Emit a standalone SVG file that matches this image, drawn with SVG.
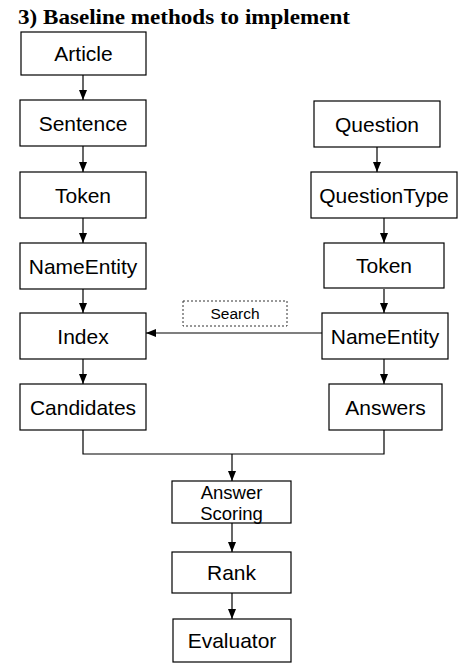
<svg xmlns="http://www.w3.org/2000/svg" width="471" height="670" viewBox="0 0 471 670">
<style>
.box{fill:#fff;stroke:#000;stroke-width:1.2}
.lbl{font-family:"Liberation Sans",Arial,sans-serif;font-size:21px;fill:#000;text-anchor:middle}
.ln{fill:none;stroke:#000;stroke-width:1.2}
.title{font-family:"Liberation Serif","Times New Roman",serif;font-weight:bold;font-size:22px;fill:#000}
</style>
<defs>
<marker id="ah" markerUnits="userSpaceOnUse" markerWidth="10" markerHeight="8" refX="10" refY="4" orient="auto">
<path d="M0,0 L10,4 L0,8 z" fill="#000"/>
</marker>
</defs>
<rect width="471" height="670" fill="#fff"/>
<text class="title" x="18" y="24" textLength="332" lengthAdjust="spacingAndGlyphs">3) Baseline methods to implement</text>
<g id="connectors">
<line class="ln" x1="83" y1="75" x2="83" y2="100" marker-end="url(#ah)"/>
<line class="ln" x1="83" y1="146" x2="83" y2="172" marker-end="url(#ah)"/>
<line class="ln" x1="83" y1="218" x2="83" y2="243" marker-end="url(#ah)"/>
<line class="ln" x1="83" y1="289" x2="83" y2="313" marker-end="url(#ah)"/>
<line class="ln" x1="83" y1="359" x2="83" y2="384" marker-end="url(#ah)"/>
<line class="ln" x1="377" y1="147" x2="377" y2="172" marker-end="url(#ah)"/>
<line class="ln" x1="384" y1="218" x2="384" y2="243" marker-end="url(#ah)"/>
<line class="ln" x1="384" y1="289" x2="384" y2="313" marker-end="url(#ah)"/>
<line class="ln" x1="384" y1="359" x2="384" y2="384" marker-end="url(#ah)"/>
<line class="ln" x1="322" y1="333" x2="146" y2="333" marker-end="url(#ah)"/>
<polyline class="ln" points="83,430 83,454 384,454 384,430"/>
<line class="ln" x1="232" y1="454" x2="232" y2="481" marker-end="url(#ah)"/>
<line class="ln" x1="232" y1="523" x2="232" y2="552" marker-end="url(#ah)"/>
<line class="ln" x1="232" y1="593" x2="232" y2="619" marker-end="url(#ah)"/>
</g>
<g id="search">
<rect x="183" y="301" width="104" height="25" fill="#fff" stroke="#333" stroke-width="1" stroke-dasharray="2,2"/>
<text x="235" y="319" font-family="Liberation Sans,Arial,sans-serif" font-size="15.5" text-anchor="middle">Search</text>
</g>
<g id="article"><rect class="box" x="21" y="32" width="125" height="43"/><text class="lbl" x="83.5" y="61">Article</text></g>
<g id="sentence"><rect class="box" x="20" y="100" width="126" height="46"/><text class="lbl" x="83" y="130.5">Sentence</text></g>
<g id="token-left"><rect class="box" x="20" y="172" width="126" height="46"/><text class="lbl" x="83" y="202.5">Token</text></g>
<g id="nameentity-left"><rect class="box" x="20" y="243" width="126" height="46"/><text class="lbl" x="83" y="273.5">NameEntity</text></g>
<g id="index"><rect class="box" x="20" y="313" width="126" height="46"/><text class="lbl" x="83" y="343.5">Index</text></g>
<g id="candidates"><rect class="box" x="20" y="384" width="126" height="46"/><text class="lbl" x="83" y="414.5">Candidates</text></g>
<g id="question"><rect class="box" x="314" y="101" width="126" height="46"/><text class="lbl" x="377" y="131.5">Question</text></g>
<g id="questiontype"><rect class="box" x="311" y="172" width="146" height="46"/><text class="lbl" x="384" y="202.5">QuestionType</text></g>
<g id="token-right"><rect class="box" x="324" y="243" width="120" height="45"/><text class="lbl" x="384" y="273">Token</text></g>
<g id="nameentity-right"><rect class="box" x="322" y="313" width="126" height="46"/><text class="lbl" x="385" y="343.5">NameEntity</text></g>
<g id="answers"><rect class="box" x="329" y="384" width="113" height="46"/><text class="lbl" x="385.5" y="414.5">Answers</text></g>
<g id="answer-scoring"><rect class="box" x="172" y="481" width="119" height="42"/><text class="lbl" x="231.5" y="499" style="font-size:18.5px"><tspan x="231.5" y="499">Answer</tspan><tspan x="231.5" y="520">Scoring</tspan></text></g>
<g id="rank"><rect class="box" x="172" y="552" width="119" height="41"/><text class="lbl" x="231.5" y="580">Rank</text></g>
<g id="evaluator"><rect class="box" x="173" y="619" width="118" height="43"/><text class="lbl" x="232" y="648">Evaluator</text></g>
</svg>
